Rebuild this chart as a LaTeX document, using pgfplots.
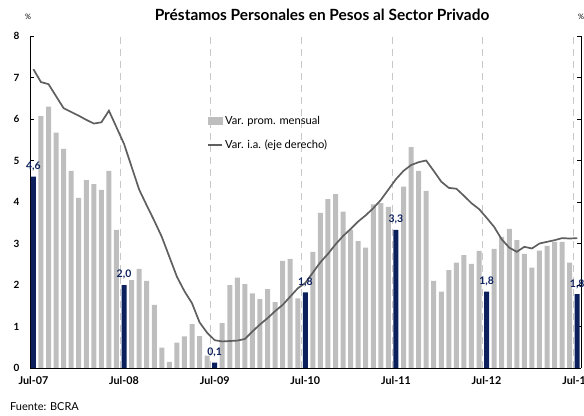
\documentclass[border=0pt]{standalone}
\usepackage{pgfplots}
\pgfplotsset{compat=1.18}
\usepackage{pgfplotstable}
\usepackage{fontspec}
\setmainfont{Lato}
\usetikzlibrary{calc}
\definecolor{barg}{RGB}{190,190,190}
\definecolor{navy}{RGB}{12,32,94}
\definecolor{lineg}{RGB}{95,95,95}
\definecolor{dashg}{RGB}{200,200,200}

\pgfplotstableread{
m v
1 6.07
2 6.30
3 5.67
4 5.28
5 4.75
6 4.10
7 4.53
8 4.43
9 4.29
10 4.75
11 3.33
13 2.12
14 2.39
15 2.10
16 1.52
17 0.49
18 0.15
19 0.61
20 0.76
21 1.06
22 0.77
23 0.30
25 1.08
26 2.00
27 2.18
28 2.02
29 1.80
30 1.66
31 1.90
32 1.59
33 2.58
34 2.63
35 1.68
37 2.80
38 3.74
39 4.07
40 4.19
41 3.77
42 3.33
43 3.06
44 2.90
45 3.94
46 3.97
47 3.88
49 4.37
50 5.32
51 4.75
52 4.27
53 2.10
54 1.84
55 2.36
56 2.54
57 2.72
58 2.51
59 2.82
61 2.87
62 3.16
63 3.35
64 3.08
65 2.75
66 2.42
67 2.83
68 2.94
69 3.04
70 3.04
71 2.54
}\graydata

\pgfplotstableread{
m v lab
0 4.61 4,6
12 2.00 2,0
24 0.13 0,1
36 1.82 1,8
48 3.33 3,3
60 1.84 1,8
72 1.78 1,8
}\darkdata

\pgfplotstableread{
m v
0 7.20
1 6.89
2 6.84
3 6.55
4 6.26
5 6.17
6 6.08
7 5.98
8 5.89
9 5.92
10 6.20
11 5.80
12 5.40
13 4.85
14 4.30
15 3.92
16 3.55
17 3.16
18 2.68
19 2.20
20 1.85
21 1.56
22 1.10
23 0.85
24 0.67
25 0.64
26 0.65
27 0.66
28 0.70
29 0.88
30 1.05
31 1.20
32 1.37
33 1.52
34 1.72
35 1.92
36 2.05
37 2.30
38 2.55
39 2.75
40 2.98
41 3.18
42 3.35
43 3.53
44 3.68
45 3.85
46 4.05
47 4.30
48 4.55
49 4.75
50 4.89
51 4.96
52 5.00
53 4.75
54 4.49
55 4.34
56 4.32
57 4.15
58 3.97
59 3.83
60 3.62
61 3.40
62 3.10
63 2.90
64 2.80
65 2.92
66 2.88
67 3.00
68 3.04
69 3.08
70 3.13
71 3.12
72 3.13
}\linedata

\begin{document}
\begin{tikzpicture}
\begin{axis}[name=ax,
  scale only axis, width=551bp, height=332bp,
  xmin=-0.45, xmax=72.5, ymin=0, ymax=8,
  axis x line*=bottom, axis y line*=box,
  axis line style={black, line width=0.9bp},
  tick align=inside, major tick length=4bp,
  ytick={0,1,...,8}, yticklabel pos=left,
  /pgf/number format/assume math mode=true,
  yticklabel style={font=\bfseries\fontsize{10}{11}\selectfont, xshift=-7bp},
  xtick={0,12,24,36,48,60,72},
  xticklabels={Jul-07,Jul-08,Jul-09,Jul-10,Jul-11,Jul-12,Jul-13},
  xticklabel style={font=\bfseries\fontsize{10.8}{12}\selectfont, yshift=-5bp},
  xtick style={draw=none},
  ytick style={black, line width=0.9bp},
  extra x ticks={11.5,23.5,35.5,47.5,59.5,71.5},
  extra x tick labels={},
  extra x tick style={grid=major, tick style={draw=none},
     major grid style={dashg, line width=1bp, dash pattern=on 7bp off 5bp}},
  legend style={at={(0.316,0.772)}, anchor=north west, draw=none, fill=none,
     font=\fontsize{11.2}{12}\selectfont, row sep=10bp, legend cell align=left},
]
\addplot[ybar, bar width=5bp, bar shift=0pt, fill=barg, draw=none,
  legend image code/.code={\fill[barg] (0bp,-4bp) rectangle (15bp,4bp);}]
  table[x=m,y=v]{\graydata};
\addlegendentry{Var. prom. mensual}
\addplot[lineg, line width=1.7bp, mark=none,
  legend image code/.code={\draw[lineg, line width=1.7bp] (0bp,0bp) -- (14bp,0bp);}]
  table[x=m,y=v]{\linedata};
\addlegendentry{Var. i.a. (eje derecho)}
\addplot[ybar, bar width=5bp, bar shift=0pt, fill=navy, draw=none, forget plot,
  point meta=explicit symbolic, nodes near coords,
  nodes near coords style={font=\bfseries\fontsize{10.5}{11}\selectfont, text=navy, anchor=south, yshift=2bp}]
  table[x=m,y=v,meta=lab]{\darkdata};
\end{axis}
\node[font=\bfseries\fontsize{15.5}{17}\selectfont] at ($(ax.north west)+(292bp,21bp)$) {Préstamos Personales en Pesos al Sector Privado};
\node[font=\fontsize{7.5}{8}\selectfont] at ($(ax.north west)+(-2bp,19bp)$) {\%};
\node[font=\fontsize{7.5}{8}\selectfont] at ($(ax.north east)+(0bp,19bp)$) {\%};
\node[font=\fontsize{11}{12}\selectfont, anchor=west, inner sep=0pt] at ($(ax.south west)+(-20bp,-38.7bp)$) {Fuente: BCRA};
\pgfresetboundingbox
\useasboundingbox ($(ax.south west)+(-30bp,-48bp)$) rectangle ($(ax.south west)+(554bp,368bp)$);
\end{tikzpicture}
\end{document}
